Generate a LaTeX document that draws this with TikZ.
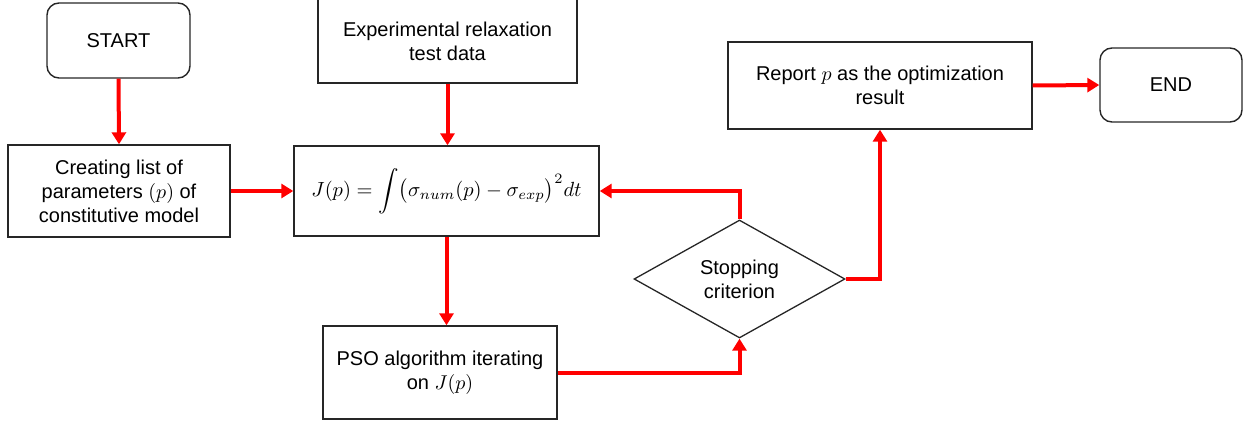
\documentclass[tikz,border=0pt]{standalone}
\usepackage{graphicx}
\usepackage{fontspec}
\setmainfont{Liberation Sans}
\usetikzlibrary{arrows.meta,shapes.geometric}
\newcommand{\mth}[1]{\scalebox{2}{\normalsize$#1$}}
\begin{document}
\begin{tikzpicture}[x=1pt,y=-1pt,
  txt/.style={font=\fontsize{20}{24}\selectfont},
  box/.style={txt, draw=black!85, line width=1.4pt, rectangle, inner sep=0pt, align=center},
  term/.style={box, rounded corners=12pt},
  dec/.style={txt, draw=black!85, line width=1.3pt, diamond, aspect=1.79, inner sep=0pt,
              minimum width=211pt, minimum height=118pt, align=center},
  flow/.style={draw=red, line width=4pt, -{Triangle[length=12pt,width=14pt]}}]
\useasboundingbox (0,0) rectangle (1248,425);
\node[term, minimum width=143pt, minimum height=75pt] (start) at (118.5,40.5) {START};
\node[box, minimum width=222pt, minimum height=92pt] (list) at (119,191)
  {Creating list of\\parameters \mth{(p)} of\\constitutive model};
\node[box, minimum width=259pt, minimum height=84pt] (exp) at (447.5,41)
  {Experimental relaxation\\test data};
\node[box, minimum width=305pt, minimum height=90pt] (j) at (446.5,191)
  {\scalebox{2.05}{\normalsize$\displaystyle J(p)=\int\bigl(\sigma_{num}(p)-\sigma_{exp}\bigr)^2dt$}};
\node[box, minimum width=234pt, minimum height=93pt] (pso) at (440,372.5)
  {PSO algorithm iterating\\on \mth{J(p)}};
\node[dec] (stop) at (739.5,279) {Stopping\\criterion};
\node[box, minimum width=304pt, minimum height=87pt] (rep) at (880,85.5)
  {Report \mth{p} as the optimization\\result};
\node[term, minimum width=142pt, minimum height=74pt] (finish) at (1171,85) {END};
\draw[flow] (start.south) -- (list.north);
\draw[flow] (exp.south) -- (exp.south |- j.north);
\draw[flow] (list.east) -- (j.west);
\draw[flow] (j.south) -- (j.south |- pso.north);
\draw[flow] (pso.east) -| (stop.south);
\draw[flow] (stop.north) |- (j.east);
\draw[flow] (stop.east) -| (rep.south);
\draw[flow] (rep.east) -- (finish.west);
\end{tikzpicture}
\end{document}
